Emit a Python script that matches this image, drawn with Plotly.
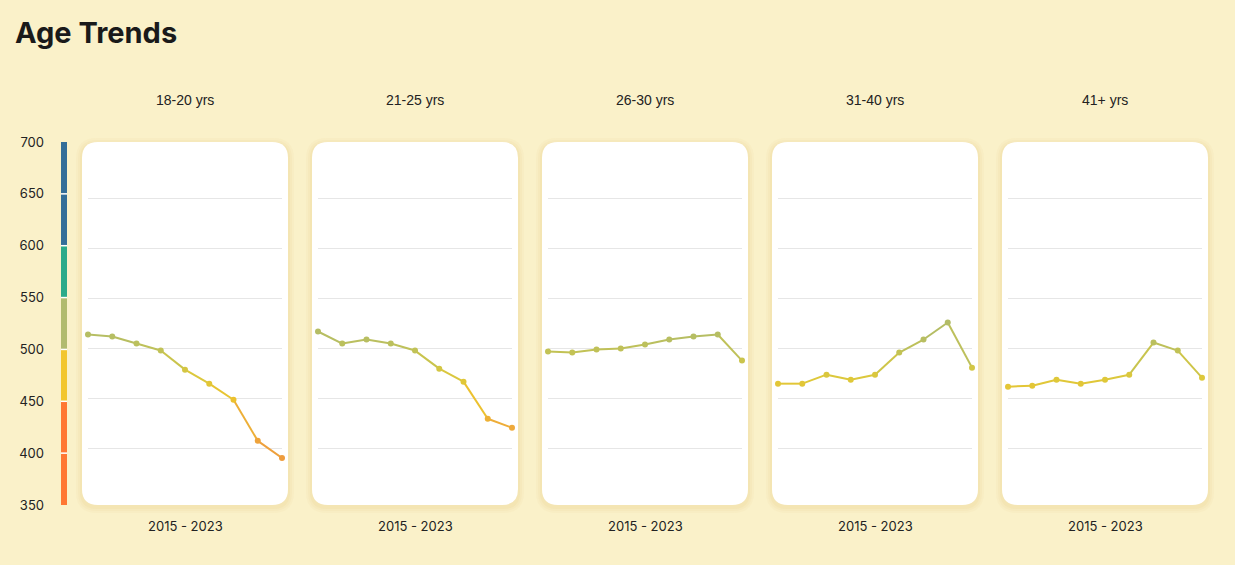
import plotly.graph_objects as go

W, H = 1235, 565

# ---------------- data ----------------
years = [2015, 2016, 2017, 2018, 2019, 2020, 2021, 2022, 2023]
groups = ["18-20 yrs", "21-25 yrs", "26-30 yrs", "31-40 yrs", "41+ yrs"]
scores_18_20 = [514, 512, 505, 498, 479, 465, 449, 408, 391]
scores_21_25 = [517, 505, 509, 505, 498, 480, 467, 430, 421]
scores_26_30 = [497, 496, 499, 500, 504, 509, 512, 514, 488]
scores_31_40 = [465, 465, 474, 469, 474, 496, 509, 526, 481]
scores_41_plus = [462, 463, 469, 465, 469, 474, 506, 498, 471]
series = [scores_18_20, scores_21_25, scores_26_30, scores_31_40, scores_41_plus]
period_label = "2015 - 2023"

band_lo = [350, 400, 450, 500, 550, 600, 650]
band_hi = [400, 450, 500, 550, 600, 650, 700]
band_colors = ["#FF7733", "#FF7733", "#F2C62E", "#B1BB6F", "#2BAA8A", "#336E99", "#336E99"]
axis_ticks = [350, 400, 450, 500, 550, 600, 650, 700]
grid_ticks = [400, 450, 500, 550, 600, 650]

# value -> line colour stops
cstops = [(380, (238, 152, 62)), (420, (238, 168, 58)), (450, (236, 194, 46)),
          (470, (222, 200, 58)), (490, (200, 196, 78)), (510, (183, 190, 98)),
          (540, (174, 187, 108))]

BG = "#FAF1C9"

# the page renders the figure slightly shorter and offset; map reference pixels accordingly
Y_OFF, H_EFF = 8.0, 549.0


def vcolor(v):
    if v <= cstops[0][0]:
        c = cstops[0][1]
    elif v >= cstops[-1][0]:
        c = cstops[-1][1]
    else:
        for (a, ca), (b, cb) in zip(cstops[:-1], cstops[1:]):
            if a <= v <= b:
                t = (v - a) / (b - a)
                c = tuple(ca[i] + (cb[i] - ca[i]) * t for i in range(3))
                break
    return "rgb(%d,%d,%d)" % tuple(int(round(x)) for x in c)


def px(x):
    return x / W


def py(y):
    return 1 - (y - Y_OFF) / H_EFF


def rrect(x0, y0, x1, y1, r):
    pts = [
        f"M {px(x0 + r)},{py(y0)}",
        f"L {px(x1 - r)},{py(y0)}",
        f"Q {px(x1)},{py(y0)} {px(x1)},{py(y0 + r)}",
        f"L {px(x1)},{py(y1 - r)}",
        f"Q {px(x1)},{py(y1)} {px(x1 - r)},{py(y1)}",
        f"L {px(x0 + r)},{py(y1)}",
        f"Q {px(x0)},{py(y1)} {px(x0)},{py(y1 - r)}",
        f"L {px(x0)},{py(y0 + r)}",
        f"Q {px(x0)},{py(y0)} {px(x0 + r)},{py(y0)}",
        "Z",
    ]
    return " ".join(pts)


fig = go.Figure()
layout = {}
shapes = []
annotations = []

panel_left0 = 82
panel_w = 206
panel_gap = 24
panel_top, panel_bot = 142, 505
plot_top, plot_bot = 148, 499

for i, (g, vals) in enumerate(zip(groups, series)):
    n = i + 1
    xa = "x" if n == 1 else f"x{n}"
    ya = "y" if n == 1 else f"y{n}"
    pl = panel_left0 + i * (panel_w + panel_gap)
    pr = pl + panel_w
    # soft shadow + panel
    for k, op in [(6, 0.06), (4, 0.08), (2, 0.10)]:
        shapes.append(dict(type="path", xref="paper", yref="paper", layer="below",
                           path=rrect(pl - k, panel_top - k + 2, pr + k, panel_bot + k + 2, 15 + k),
                           fillcolor=f"rgba(225,195,110,{op})", line=dict(width=0)))
    shapes.append(dict(type="path", xref="paper", yref="paper", layer="below",
                       path=rrect(pl, panel_top, pr, panel_bot, 16),
                       fillcolor="white", line=dict(width=0)))
    for j in range(len(years) - 1):
        mid = (vals[j] + vals[j + 1]) / 2
        fig.add_trace(go.Scatter(x=years[j:j + 2], y=vals[j:j + 2], mode="lines",
                                 line=dict(color=vcolor(mid), width=2), cliponaxis=False,
                                 xaxis=xa, yaxis=ya, showlegend=False, hoverinfo="skip"))
    fig.add_trace(go.Scatter(x=years, y=vals, mode="markers", cliponaxis=False,
                             marker=dict(color=[vcolor(v) for v in vals], size=6),
                             xaxis=xa, yaxis=ya, showlegend=False, name=g))
    key = "xaxis" if n == 1 else f"xaxis{n}"
    ykey = "yaxis" if n == 1 else f"yaxis{n}"
    layout[key] = dict(domain=[px(pl + 6), px(pr - 6)], range=[years[0], years[-1]],
                       showgrid=False, zeroline=False, showticklabels=False,
                       showline=False, anchor=ya)
    layout[ykey] = dict(domain=[py(plot_bot), py(plot_top)], range=[350, 700],
                        tickvals=grid_ticks, showticklabels=False, ticks="",
                        gridcolor="#E6E6E6", gridwidth=1, zeroline=False,
                        showline=False, anchor=xa)
    annotations.append(dict(text=g, x=px((pl + pr) / 2), y=py(100), xref="paper", yref="paper",
                            showarrow=False, xanchor="center", yanchor="middle",
                            font=dict(size=14, color="#222222", family="Arial, Liberation Sans")))
    annotations.append(dict(text=period_label, x=px((pl + pr) / 2), y=py(526), xref="paper",
                            yref="paper", showarrow=False, xanchor="center", yanchor="middle",
                            font=dict(size=13, color="#222222", family="Inter, Arial")))

# colour scale bar on the left
fig.add_trace(go.Bar(x=[0] * len(band_lo), y=[h - l for l, h in zip(band_lo, band_hi)],
                     base=band_lo, marker=dict(color=band_colors, line=dict(width=0)),
                     width=1, xaxis="x6", yaxis="y6", showlegend=False, hoverinfo="skip"))
for b in band_lo[1:]:
    fig.add_trace(go.Scatter(x=[-0.5, 0.5], y=[b, b], mode="lines",
                             line=dict(color="white", width=1.5),
                             xaxis="x6", yaxis="y6", showlegend=False, hoverinfo="skip"))
layout["xaxis6"] = dict(domain=[px(61), px(67)], range=[-0.5, 0.5], showgrid=False,
                        zeroline=False, showticklabels=False, anchor="y6")
layout["yaxis6"] = dict(domain=[py(505), py(142)], range=[350, 700], tickvals=axis_ticks,
                        showgrid=False, zeroline=False, ticks="", anchor="x6",
                        ticklabelstandoff=16,
                        tickfont=dict(size=13, color="#222222", family="Inter, Arial"))

annotations.append(dict(text="<b>Age Trends</b>", x=px(13), y=py(33), xref="paper", yref="paper",
                        showarrow=False, xanchor="left", yanchor="middle",
                        font=dict(size=29, color="#1A1A1A", family="Inter, Arial")))

fig.update_layout(width=W, height=H, margin=dict(l=0, r=0, t=0, b=0),
                  paper_bgcolor=BG, plot_bgcolor="rgba(0,0,0,0)",
                  shapes=shapes, annotations=annotations, barmode="overlay",
                  **layout)
fig.write_html("out.html")
